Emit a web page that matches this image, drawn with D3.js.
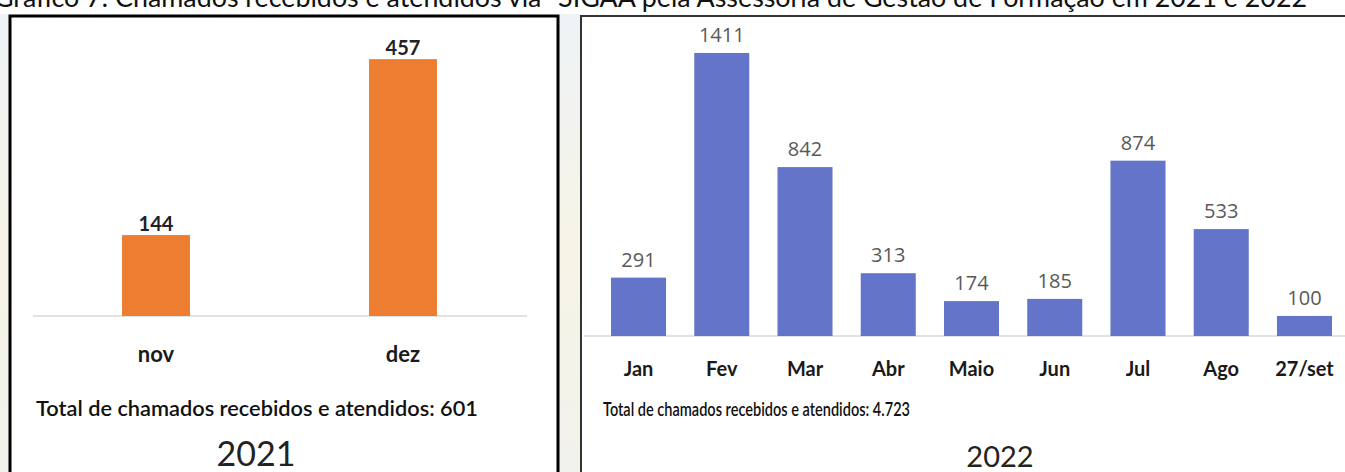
<!DOCTYPE html>
<html>
<head>
<meta charset="utf-8">
<script src="https://cdn.jsdelivr.net/npm/d3@7"></script>
<style>
    html, body { margin: 0; padding: 0; background: #ffffff; }
    svg { display: block; }
    .title     { font-family: Lato, "Open Sans", sans-serif; font-size: 26px; fill: #111; }
    .catLabel  { font-family: Lato, "Open Sans", sans-serif; font-weight: bold; fill: #1a1a1a; }
    .totalText { font-family: Lato, "Open Sans", sans-serif; fill: #111; }
    .yearText  { font-family: Lato, "Open Sans", sans-serif; fill: #222; }
    .valBold   { font-family: Lato, "Open Sans", sans-serif; font-weight: bold; font-size: 20px; fill: #222; }
    .valGrey   { font-family: "Open Sans", "Noto Sans", sans-serif; font-size: 20px; fill: #595959; }
</style>
</head>
<body>
<div id="chart"></div>
<script>
// ============
//   Data
// ============

const months2021 = ['nov', 'dez'];
const calls2021 = [144, 457];

const months2022 = ['Jan', 'Fev', 'Mar', 'Abr', 'Maio', 'Jun', 'Jul', 'Ago', '27/set'];
const calls2022 = [291, 1411, 842, 313, 174, 185, 874, 533, 100];

const titleText = 'Gráfico 7: Chamados recebidos e atendidos via “SIGAA pela Assessoria de Gestão de Formação em 2021 e 2022';
const total2021 = 'Total de chamados recebidos e atendidos: 601';
const total2022 = 'Total de chamados recebidos e atendidos: 4.723';

// ============
//   Canvas
// ============

const W = 1345, H = 472;

const svg = d3.select('#chart').append('svg')
    .attr('width', W)
    .attr('height', H);

// faded page strip between the two pictures
const grad = svg.append('defs').append('linearGradient')
    .attr('id', 'page').attr('x1', 0).attr('x2', 0).attr('y1', 0).attr('y2', 1);
grad.append('stop').attr('offset', '0%').attr('stop-color', '#eef2f6');
grad.append('stop').attr('offset', '50%').attr('stop-color', '#f6f4e6');
grad.append('stop').attr('offset', '100%').attr('stop-color', '#f1f1ec');

svg.append('rect').attr('x', 0).attr('y', 14).attr('width', 10).attr('height', H).attr('fill', 'url(#page)');
svg.append('rect').attr('x', 559).attr('y', 14).attr('width', 22).attr('height', H).attr('fill', 'url(#page)');

// title (cut at the top edge, as in the source picture)
svg.append('text')
    .attr('class', 'title')
    .attr('x', -6)
    .attr('y', 7)
    .attr('textLength', 1313)
    .attr('lengthAdjust', 'spacingAndGlyphs')
    .text(titleText);

// panel frames
svg.append('rect')
    .attr('x', 10).attr('y', 16).attr('width', 548).attr('height', H)
    .attr('fill', '#fff').attr('stroke', '#000').attr('stroke-width', 3);

svg.append('rect')
    .attr('x', 581).attr('y', 16).attr('width', 800).attr('height', H)
    .attr('fill', '#fff').attr('stroke', '#333').attr('stroke-width', 2);

/**
 * Draw one bar panel
 */
function drawPanel(o) {
    const g = svg.append('g');

    const x = d3.scaleBand()
        .domain(o.cats)
        .range(o.xRange)
        .paddingInner(o.pad)
        .paddingOuter(o.pad / 2);

    const y = d3.scaleLinear()
        .domain([0, o.yMax])
        .range([o.base, o.top]);

    // baseline
    const axis = d3.axisBottom(x).tickSize(0).tickFormat('');
    const ax = g.append('g')
        .attr('transform', `translate(0, ${o.base})`)
        .call(axis);
    ax.select('.domain').remove();
    ax.append('line')
        .attr('x1', o.lineX[0]).attr('x2', o.lineX[1])
        .attr('stroke', '#d9d9d9').attr('stroke-width', 1.5);

    // bars
    g.selectAll('rect.bar')
        .data(o.values)
        .join('rect')
            .attr('class', 'bar')
            .attr('x', (_, i) => x(o.cats[i]))
            .attr('y', d => y(d))
            .attr('width', x.bandwidth())
            .attr('height', d => o.base - y(d))
            .attr('fill', o.color);

    // value labels
    g.selectAll('text.val')
        .data(o.values)
        .join('text')
            .attr('class', o.valClass)
            .attr('x', (_, i) => x(o.cats[i]) + x.bandwidth() / 2)
            .attr('y', d => y(d) - o.valGap)
            .attr('text-anchor', 'middle')
            .text(d => d);

    // category labels
    g.selectAll('text.cat')
        .data(o.cats)
        .join('text')
            .attr('class', 'catLabel')
            .attr('x', d => x(d) + x.bandwidth() / 2)
            .attr('y', o.catY)
            .attr('font-size', o.catSize)
            .attr('text-anchor', 'middle')
            .text(d => d);

    // total line
    g.append('text')
        .attr('class', 'totalText')
        .attr('x', o.totalX)
        .attr('y', o.totalY)
        .attr('font-size', o.totalSize)
        .attr('font-weight', o.totalWeight)
        .attr('textLength', o.totalLen)
        .attr('lengthAdjust', 'spacingAndGlyphs')
        .text(o.total);

    // year
    g.append('text')
        .attr('class', 'yearText')
        .attr('x', o.yearX)
        .attr('y', o.yearY)
        .attr('font-size', o.yearSize)
        .attr('text-anchor', 'middle')
        .text(o.year);
}

drawPanel({
    cats: months2021, values: calls2021,
    xRange: [32.5, 526.5], pad: 0.725, lineX: [33, 527],
    yMax: 500, base: 316, top: 35,
    color: '#ed7d31',
    valClass: 'valBold', valGap: 4,
    catY: 362, catSize: 22,
    total: total2021, totalX: 36, totalY: 416, totalSize: 21, totalWeight: 600, totalLen: 442,
    year: '2021', yearX: 256, yearY: 466, yearSize: 34
});

drawPanel({
    cats: months2022, values: calls2022,
    xRange: [596.9, 1346.1], pad: 0.339, lineX: [584, 1345],
    yMax: 1500, base: 336, top: 35.1,
    color: '#6474c8',
    valClass: 'valGrey', valGap: 11,
    catY: 376, catSize: 20,
    total: total2022, totalX: 603, totalY: 416, totalSize: 20, totalWeight: 600, totalLen: 307,
    year: '2022', yearX: 1000, yearY: 467, yearSize: 29
});
</script>
</body>
</html>
